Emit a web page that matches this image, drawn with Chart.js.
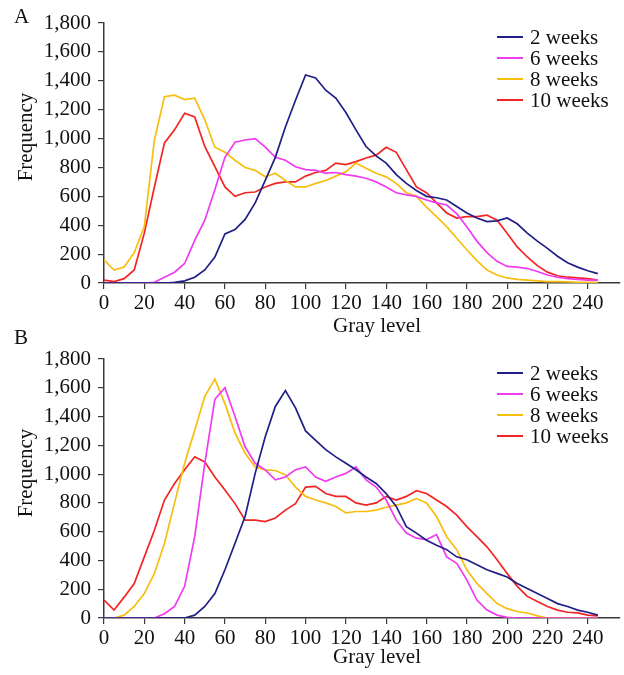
<!DOCTYPE html>
<html>
<head>
<meta charset="utf-8">
<script src="https://cdn.jsdelivr.net/npm/chart.js@4.4.1/dist/chart.umd.min.js"></script>
<style>
  html, body { margin: 0; padding: 0; background: #fff; }
  #wrap { position: relative; width: 624px; height: 675px; overflow: hidden; }
  canvas { position: absolute; left: 0; }
  #chartA { top: 0; }
  #chartB { top: 330px; }
</style>
</head>
<body>
<div id="wrap">
  <canvas id="chartA" width="624" height="340"></canvas>
  <canvas id="chartB" width="624" height="345"></canvas>
</div>
<script>
// Gray levels sampled every 5 units
const grayLevels = [0, 5, 10, 15, 20, 25, 30, 35, 40, 45,
    50, 55, 60, 65, 70, 75, 80, 85, 90, 95,
    100, 105, 110, 115, 120, 125, 130, 135, 140, 145,
    150, 155, 160, 165, 170, 175, 180, 185, 190, 195,
    200, 205, 210, 215, 220, 225, 230, 235, 240, 245];

const seriesNames = ['2 weeks', '6 weeks', '8 weeks', '10 weeks'];
const seriesColors = ['#1f1f87', '#f03cf0', '#f7be0f', '#f22525'];

const xTicks = [0, 20, 40, 60, 80, 100, 120, 140, 160, 180, 200, 220, 240];
const yTicks = [0, 200, 400, 600, 800, 1000, 1200, 1400, 1600, 1800];

// Panel A
const weeks2A = [0, 0, 0, 0, 0, 0, 0, 5, 15, 40,
    90, 180, 340, 370, 440, 555, 710, 870, 1080, 1265,
    1440, 1420, 1335, 1280, 1180, 1060, 945, 880, 830, 750,
    690, 640, 600, 590, 575, 530, 485, 450, 425, 430,
    450, 410, 345, 290, 240, 185, 140, 110, 85, 65];
const weeks6A = [0, 0, 0, 0, 0, 5, 40, 75, 135, 295,
    435, 645, 870, 975, 990, 1000, 940, 870, 850, 805,
    785, 780, 760, 765, 750, 740, 725, 700, 665, 625,
    610, 600, 575, 555, 540, 480, 390, 290, 210, 150,
    115, 110, 100, 80, 55, 40, 30, 25, 20, 20];
const weeks8A = [160, 90, 110, 210, 390, 990, 1290, 1300, 1270, 1280,
    1130, 940, 905, 850, 800, 780, 735, 760, 710, 665,
    665, 690, 710, 740, 770, 830, 795, 760, 735, 690,
    625, 600, 525, 460, 390, 310, 230, 155, 90, 55,
    35, 25, 20, 15, 10, 10, 8, 5, 5, 5];
const weeks10A = [20, 10, 30, 90, 345, 665, 970, 1060, 1175, 1150,
    945, 805, 665, 600, 625, 630, 665, 690, 700, 700,
    740, 765, 780, 830, 820, 840, 865, 885, 940, 905,
    785, 665, 625, 555, 485, 450, 460, 460, 470, 435,
    345, 250, 180, 120, 75, 50, 40, 35, 30, 20];

// Panel B
const weeks2B = [0, 0, 0, 0, 0, 0, 0, 0, 0, 20,
    80, 170, 335, 520, 705, 1005, 1260, 1470, 1580, 1460,
    1300, 1235, 1170, 1120, 1075, 1030, 980, 935, 865, 775,
    635, 590, 540, 505, 475, 425, 405, 370, 335, 310,
    285, 240, 205, 170, 135, 100, 80, 55, 40, 20];
const weeks6B = [0, 0, 0, 0, 0, 0, 30, 80, 220, 565,
    1075, 1520, 1600, 1400, 1190, 1075, 1030, 960, 980, 1030,
    1050, 980, 950, 980, 1005, 1050, 960, 910, 820, 680,
    590, 555, 545, 580, 425, 380, 265, 125, 55, 20,
    5, 0, 0, 0, 0, 0, 0, 0, 0, 0];
const weeks8B = [0, 0, 20, 80, 170, 310, 520, 800, 1075, 1305,
    1540, 1660, 1490, 1285, 1145, 1050, 1030, 1025, 995, 910,
    845, 820, 800, 775, 730, 740, 740, 750, 770, 785,
    800, 830, 800, 705, 565, 475, 335, 240, 170, 100,
    65, 45, 35, 15, 0, 0, 0, 0, 0, 0];
const weeks10B = [125, 55, 145, 240, 425, 610, 820, 935, 1030, 1120,
    1085, 980, 890, 795, 680, 680, 670, 695, 750, 795,
    910, 915, 865, 845, 845, 800, 785, 800, 845, 820,
    845, 885, 865, 820, 775, 715, 635, 565, 495, 405,
    310, 220, 150, 115, 80, 55, 40, 35, 20, 15];

const FONT = 'Liberation Serif, Times New Roman, serif';
const AXIS_COLOR = '#3a3a3a';

// Plugin for the panel letter, axis titles and the in-plot legend
const annotations = {
    id: 'annotations',
    afterDraw(chart, args, opts) {
        const ctx = chart.ctx;
        const area = chart.chartArea;
        ctx.save();
        ctx.fillStyle = '#111';
        ctx.font = '21px ' + FONT;
        ctx.textBaseline = 'middle';

        // panel letter
        ctx.textAlign = 'left';
        ctx.fillText(opts.letter, 14, area.top + opts.letterOffset);

        // x title
        ctx.textAlign = 'center';
        ctx.textBaseline = 'alphabetic';
        ctx.fillText('Gray level', 377, area.bottom + opts.xTitleOffset);

        // y title
        ctx.save();
        ctx.translate(26, area.top + 114);
        ctx.rotate(-Math.PI / 2);
        ctx.textBaseline = 'middle';
        ctx.fillText('Frequency', 0, 0);
        ctx.restore();

        // legend
        ctx.textAlign = 'left';
        ctx.textBaseline = 'middle';
        chart.data.datasets.forEach((ds, i) => {
            const y = area.top + 14 + i * 21;
            ctx.strokeStyle = ds.borderColor;
            ctx.lineWidth = 2;
            ctx.beginPath();
            ctx.moveTo(497, y);
            ctx.lineTo(523, y);
            ctx.stroke();
            ctx.fillText(ds.label, 530, y + 1);
        });
        ctx.restore();
    }
};

function renderPanel(canvasId, seriesList, letter, chartTop, chartBottom, letterOffset, xTitleOffset) {
    const canvas = document.getElementById(canvasId);
    const datasets = seriesList.map((values, i) => ({
        label: seriesNames[i],
        data: values.map((v, j) => ({ x: grayLevels[j], y: v })),
        borderColor: seriesColors[i],
        borderWidth: 1.7,
        pointRadius: 0,
        tension: 0,
        fill: false
    }));

    new Chart(canvas.getContext('2d'), {
        type: 'line',
        data: { datasets: datasets },
        plugins: [annotations],
        options: {
            responsive: false,
            animation: false,
            layout: { padding: { left: 0, right: 4, top: chartTop, bottom: 0 } },
            plugins: {
                legend: { display: false },
                tooltip: { enabled: false },
                annotations: { letter: letter, letterOffset: letterOffset, xTitleOffset: xTitleOffset }
            },
            scales: {
                x: {
                    type: 'linear',
                    min: 0,
                    max: 256,
                    afterBuildTicks: axis => { axis.ticks = xTicks.map(v => ({ value: v })); },
                    afterFit: scale => { scale.height = canvas.height - chartBottom; },
                    grid: { drawOnChartArea: false, drawTicks: true, tickLength: 6, color: AXIS_COLOR, lineWidth: 1.2 },
                    border: { display: true, color: AXIS_COLOR, width: 1.5 },
                    ticks: { color: '#111', font: { family: FONT, size: 21 }, padding: 2, maxRotation: 0, autoSkip: false }
                },
                y: {
                    min: 0,
                    max: 1800,
                    afterBuildTicks: axis => { axis.ticks = yTicks.map(v => ({ value: v })); },
                    afterFit: scale => { scale.width = 104; },
                    grid: { drawOnChartArea: false, drawTicks: true, tickLength: 6, color: AXIS_COLOR, lineWidth: 1.2 },
                    border: { display: true, color: AXIS_COLOR, width: 1.5 },
                    ticks: {
                        color: '#111',
                        font: { family: FONT, size: 21 },
                        padding: 7,
                        callback: v => v.toLocaleString('en-US')
                    }
                }
            }
        }
    });
}

renderPanel('chartA', [weeks2A, weeks6A, weeks8A, weeks10A], 'A', 23, 283, -6, 49);
renderPanel('chartB', [weeks2B, weeks6B, weeks8B, weeks10B], 'B', 29, 288, -21, 45);
</script>
</body>
</html>
